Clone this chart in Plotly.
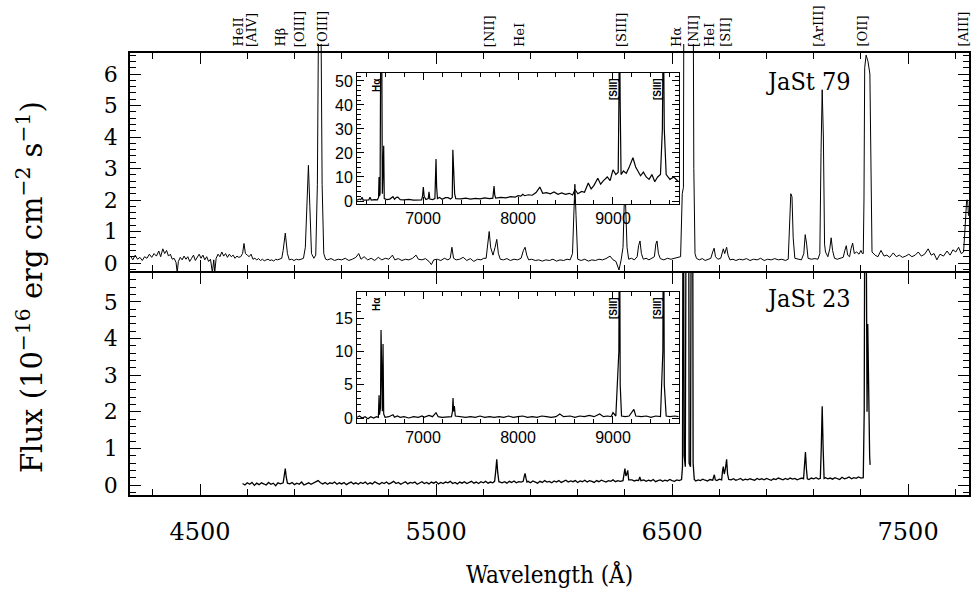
import numpy as np
import plotly.graph_objects as go

# ---------------- JaSt 79, optical spectrum (upper panel) ----------------
w79 = [4205, 4215, 4225, 4235, 4245, 4255, 4265, 4275, 4285, 4295,
       4305, 4315, 4325, 4333, 4342, 4350, 4358, 4366, 4374, 4382,
       4390, 4398, 4403, 4408, 4416, 4424, 4432, 4440, 4448, 4456,
       4464, 4472, 4480, 4488, 4496, 4504, 4512, 4520, 4528, 4536,
       4544, 4552, 4558, 4562, 4568, 4576, 4584, 4592, 4600, 4608,
       4616, 4624, 4632, 4640, 4648, 4656, 4664, 4672, 4680, 4686,
       4692, 4700, 4708, 4716, 4724, 4732, 4740, 4748, 4756, 4764,
       4772, 4780, 4788, 4796, 4804, 4812, 4820, 4828, 4836, 4846,
       4852, 4861, 4870, 4878, 4888, 4898, 4908, 4918, 4928, 4938,
       4946, 4953, 4959, 4965, 4972, 4982, 4990, 4997, 5002, 5007,
       5012, 5017, 5024, 5032, 5040, 5055, 5070, 5085, 5100, 5115,
       5130, 5145, 5160, 5172, 5182, 5195, 5210, 5225, 5240, 5255,
       5270, 5285, 5300, 5315, 5325, 5340, 5355, 5370, 5385, 5400,
       5415, 5425, 5440, 5455, 5470, 5480, 5490, 5505, 5520, 5535,
       5550, 5560, 5567, 5574, 5585, 5600, 5615, 5630, 5645, 5660,
       5675, 5690, 5702, 5712, 5719, 5725, 5731, 5741, 5750, 5757,
       5764, 5772, 5785, 5800, 5815, 5830, 5845, 5860, 5870, 5877,
       5884, 5892, 5905, 5920, 5935, 5950, 5965, 5980, 5995, 6010,
       6025, 6040, 6055, 6068, 6078, 6084, 6088, 6093, 6100, 6115,
       6130, 6145, 6160, 6175, 6190, 6205, 6220, 6237, 6250, 6262,
       6275, 6284, 6292, 6297, 6303, 6309, 6316, 6328, 6340, 6352,
       6358, 6364, 6370, 6378, 6390, 6402, 6414, 6425, 6431, 6436,
       6442, 6450, 6465, 6480, 6495, 6510, 6525, 6536, 6540, 6543,
       6548, 6552, 6560, 6566, 6574, 6580, 6586, 6592, 6597, 6603,
       6615, 6628, 6640, 6652, 6664, 6672, 6678, 6684, 6694, 6706,
       6712, 6717, 6723, 6731, 6737, 6745, 6758, 6770, 6785, 6800,
       6815, 6830, 6845, 6860, 6875, 6890, 6905, 6920, 6935, 6950,
       6965, 6980, 6992, 6998, 7003, 7008, 7013, 7020, 7035, 7048,
       7058, 7064, 7070, 7076, 7090, 7105, 7118, 7126, 7131, 7136,
       7141, 7146, 7150, 7160, 7168, 7174, 7180, 7188, 7200, 7212,
       7225, 7232, 7238, 7244, 7252, 7258, 7265, 7272, 7282, 7292,
       7300, 7306, 7310, 7313, 7316, 7322, 7330, 7338, 7343, 7347,
       7360, 7372, 7385, 7398, 7410, 7422, 7437, 7450, 7463, 7476,
       7490, 7503, 7516, 7530, 7543, 7556, 7570, 7585, 7598, 7610,
       7622, 7635, 7650, 7665, 7678, 7690, 7702, 7714, 7725, 7735,
       7742, 7748, 7752, 7756]
f79 = [0.22, 0.10, 0.25, 0.12, 0.18, 0.08, 0.20, 0.15, 0.28, 0.18,
       0.30, 0.22, 0.38, 0.20, 0.45, 0.30, 0.40, 0.22, 0.28, 0.12,
       0.15, 0.02, -0.30, 0.05, 0.18, 0.10, 0.22, 0.12, 0.20, 0.05,
       0.15, 0.25, 0.08, 0.18, 0.28, 0.15, 0.25, 0.10, 0.20, 0.05,
       0.12, -0.30, 0.10, -0.30, 0.15, 0.28, 0.20, 0.35, 0.22, 0.30,
       0.18, 0.28, 0.20, 0.25, 0.15, 0.22, 0.18, 0.20, 0.30, 0.62,
       0.30, 0.25, 0.20, 0.28, 0.12, 0.15, 0.10, 0.14, 0.08, 0.12,
       0.07, 0.10, 0.12, 0.08, 0.10, 0.06, 0.12, 0.10, 0.12, 0.15,
       0.40, 0.95, 0.30, 0.10, 0.12, 0.08, 0.12, 0.10, 0.12, 0.15,
       0.50, 2.20, 3.10, 1.80, 0.30, 0.15, 0.25, 2.50, 8.00, 10.0,
       8.00, 2.50, 0.30, 0.12, 0.10, 0.14, 0.08, 0.12, 0.10, 0.15,
       0.08, 0.12, 0.18, 0.30, 0.12, 0.20, 0.10, 0.15, 0.08, 0.18,
       0.10, 0.15, 0.12, 0.25, 0.10, 0.14, 0.08, 0.12, 0.10, 0.15,
       0.25, 0.12, 0.10, 0.14, 0.05, -0.05, 0.10, 0.12, 0.08, 0.15,
       0.10, 0.15, 0.50, 0.15, 0.10, 0.12, 0.18, 0.08, 0.14, 0.05,
       0.12, 0.10, 0.15, 0.15, 0.60, 1.00, 0.50, 0.25, 0.50, 0.75,
       0.30, 0.12, 0.10, 0.14, 0.08, 0.12, 0.10, 0.15, 0.40, 0.50,
       0.25, 0.10, 0.12, 0.08, 0.10, 0.06, 0.10, 0.08, 0.12, 0.06,
       0.10, 0.08, 0.12, 0.10, 0.30, 1.80, 2.50, 1.50, 0.12, 0.08,
       0.12, 0.06, 0.10, 0.08, 0.12, 0.10, 0.14, 0.22, 0.10, 0.05,
       -0.22, 0.10, 0.50, 1.85, 1.85, 0.50, 0.12, 0.15, 0.10, 0.20,
       0.55, 0.70, 0.30, 0.12, 0.15, 0.10, 0.14, 0.20, 0.60, 0.70,
       0.30, 0.14, 0.10, 0.15, 0.12, 0.14, 0.18, 0.20, 1.50, 2.20,
       2.40, 20.0, 45.0, 40.0, 15.0, 20.0, 16.0, 3.00, 0.30, 0.15,
       0.10, 0.14, 0.08, 0.12, 0.15, 0.35, 0.47, 0.20, 0.12, 0.15,
       0.35, 0.45, 0.30, 0.50, 0.25, 0.10, 0.12, 0.08, 0.12, 0.10,
       0.14, 0.08, 0.12, 0.10, 0.15, 0.08, 0.12, 0.10, 0.14, 0.10,
       0.12, 0.08, 0.12, 1.20, 2.20, 2.10, 0.80, 0.15, 0.12, 0.10,
       0.30, 0.90, 0.60, 0.15, 0.12, 0.14, 0.12, 0.30, 3.50, 5.50,
       4.00, 0.60, 0.35, 0.20, 0.45, 0.80, 0.40, 0.15, 0.12, 0.14,
       0.18, 0.40, 0.55, 0.25, 0.20, 0.45, 0.63, 0.30, 0.35, 0.28,
       0.40, 0.30, 0.30, 2.00, 6.20, 6.60, 6.40, 6.00, 2.00, 0.35,
       0.25, 0.20, 0.40, 0.22, 0.25, 0.18, 0.32, 0.20, 0.25, 0.18,
       0.22, 0.28, 0.20, 0.25, 0.35, 0.22, 0.28, 0.45, 0.25, 0.30,
       0.10, 0.28, 0.22, 0.38, 0.25, 0.42, 0.35, 0.50, 0.30, 0.35,
       1.20, 2.00, 2.00, 1.50]

# ---------------- JaSt 23, optical spectrum (lower panel) ----------------
# continuum sampled every 10 A from 4680 A to 7340 A
w23_start, w23_step = 4680, 10
f23_cont = [
    0.04, 0.00, 0.06, 0.02, 0.07, -0.01, 0.05, 0.01, 0.06, 0.03,
    0.00, 0.07, 0.02, 0.05, -0.02, 0.06, 0.03, 0.04, 0.00, 0.06,
    0.03, 0.07, 0.01, 0.05, 0.02, 0.08, 0.00, 0.04, 0.06, 0.02,
    0.05, 0.09, 0.12, 0.06, 0.03, 0.07, 0.02, 0.06, 0.04, 0.08,
    0.02, 0.06, 0.03, 0.07, 0.01, 0.05, 0.08, 0.03, 0.06, 0.02,
    0.07, 0.04, 0.08, 0.02, 0.06, 0.03, 0.09, 0.05, 0.02, 0.07,
    0.04, 0.08, 0.03, 0.06, 0.10, 0.04, 0.07, 0.02, 0.06, 0.09,
    0.03, 0.07, 0.05, 0.08, 0.02, 0.06, 0.09, 0.04, 0.07, 0.03,
    0.08, 0.05, 0.09, 0.03, 0.07, 0.04, 0.08, 0.06, 0.10, 0.04,
    0.07, 0.03, 0.08, 0.05, 0.09, 0.04, 0.07, 0.10, 0.05, 0.08,
    0.04, 0.09, 0.06, 0.10, 0.05, 0.08, 0.06, 0.09, 0.07, 0.10,
    0.06, 0.09, 0.05, 0.10, 0.07, 0.11, 0.06, 0.09, 0.08, 0.10,
    0.07, 0.10, 0.06, 0.11, 0.08, 0.05, 0.10, 0.07, 0.12, 0.08,
    0.10, 0.06, 0.11, 0.08, 0.12, 0.07, 0.10, 0.13, 0.08, 0.11,
    0.09, 0.12, 0.07, 0.11, 0.09, 0.13, 0.08, 0.12, 0.10, 0.07,
    0.12, 0.09, 0.13, 0.10, 0.08, 0.12, 0.10, 0.14, 0.09, 0.12,
    0.10, 0.13, 0.16, 0.12, 0.10, 0.14, 0.11, 0.13, 0.09, 0.12,
    0.14, 0.10, 0.13, 0.11, 0.15, 0.09, 0.12, 0.14, 0.10, 0.13,
    0.11, 0.15, 0.12, 0.10, 0.14, 0.12, 0.13, 0.15, 0.12, 0.14,
    0.13, 0.15, 0.11, 0.14, 0.12, 0.16, 0.13, 0.11, 0.15, 0.13,
    0.14, 0.12, 0.16, 0.13, 0.15, 0.12, 0.16, 0.14, 0.17, 0.13,
    0.15, 0.18, 0.13, 0.16, 0.14, 0.17, 0.15, 0.13, 0.18, 0.15,
    0.17, 0.14, 0.18, 0.16, 0.13, 0.17, 0.15, 0.19, 0.16, 0.14,
    0.18, 0.15, 0.19, 0.16, 0.18, 0.14, 0.17, 0.19, 0.16, 0.18,
    0.15, 0.19, 0.17, 0.20, 0.16, 0.18, 0.15, 0.20, 0.17, 0.19,
    0.16, 0.20, 0.18, 0.15, 0.21, 0.17, 0.19, 0.22, 0.17, 0.20,
    0.18, 0.22, 0.19, 0.21, 0.17, 0.20, 0.22]

# emission lines of JaSt 23: (wavelength list, flux list)
lines23 = {
    "Hb":     ([4852, 4857, 4861, 4865, 4870], [0.06, 0.25, 0.45, 0.22, 0.05]),
    "NII5755": ([5748, 5753, 5757, 5761, 5766], [0.10, 0.40, 0.70, 0.35, 0.09]),
    "HeI5876": ([5869, 5873, 5877, 5881, 5885], [0.10, 0.22, 0.32, 0.18, 0.08]),
    "OI6300": ([6292, 6297, 6300, 6304, 6308, 6312, 6316],
               [0.12, 0.30, 0.45, 0.25, 0.30, 0.40, 0.14]),
    "OI6364": ([6358, 6363, 6368], [0.12, 0.22, 0.12]),
    "Ha":     ([6540, 6544, 6547, 6551, 6556, 6560, 6564, 6568, 6572, 6578,
                6582, 6585, 6589, 6594],
               [0.15, 0.50, 12.0, 0.80, 0.50, 10.0, 40.0, 10.0, 0.60, 0.50,
                12.0, 18.0, 0.60, 0.15]),
    "HeI6678": ([6672, 6676, 6679, 6683], [0.13, 0.22, 0.28, 0.14]),
    "SII":    ([6710, 6714, 6717, 6721, 6726, 6731, 6735, 6740],
               [0.14, 0.40, 0.50, 0.30, 0.45, 0.70, 0.30, 0.15]),
    "HeI7065": ([7057, 7061, 7065, 7069, 7073], [0.17, 0.45, 0.90, 0.45, 0.17]),
    "ArIII":  ([7128, 7132, 7136, 7140, 7144], [0.18, 1.00, 2.15, 1.00, 0.18]),
    "OII":    ([7310, 7314, 7318, 7322, 7326, 7329, 7333, 7337, 7339],
               [0.20, 2.00, 12.0, 8.00, 2.00, 4.40, 2.00, 0.80, 0.55]),
}

# ---------------- long-range spectra (insets) ----------------
w79_red = [6305, 6330, 6345, 6358, 6370, 6400, 6430, 6442, 6455, 6490,
           6520, 6532, 6537, 6542, 6548, 6556, 6564, 6572, 6579, 6586,
           6592, 6620, 6650, 6684, 6700, 6720, 6735, 6760, 6800, 6850,
           6900, 6950, 6985, 6995, 7003, 7012, 7030, 7055, 7063, 7072,
           7100, 7125, 7133, 7137, 7143, 7152, 7175, 7200, 7237, 7263,
           7290, 7308, 7314, 7320, 7326, 7333, 7345, 7400, 7450, 7500,
           7550, 7600, 7650, 7700, 7735, 7742, 7748, 7755, 7765, 7820,
           7870, 7920, 7970, 8000, 8030, 8050, 8070, 8110, 8150, 8190,
           8230, 8260, 8300, 8340, 8380, 8420, 8460, 8500, 8540, 8575,
           8600, 8630, 8670, 8700, 8740, 8770, 8800, 8840, 8870, 8900,
           8940, 8970, 9000, 9030, 9055, 9062, 9068, 9076, 9085, 9110,
           9140, 9170, 9210, 9240, 9270, 9290, 9320, 9350, 9380, 9410,
           9440, 9470, 9500, 9520, 9530, 9540, 9560, 9600, 9640, 9690]
f79_red = [0.3, 0.8, 0.5, 1.6, 0.4, 0.6, 0.5, 1.6, 0.4, 0.6,
           0.5, 1.5, 10.0, 2.0, 3.0, 80.0, 80.0, 3.0, 23.0, 23.0,
           1.0, 0.6, 0.8, 1.8, 0.7, 1.5, 1.6, 0.6, 0.5, 0.7,
           0.4, 0.6, 0.5, 2.0, 5.8, 2.0, 0.6, 1.0, 3.8, 0.8,
           0.6, 1.0, 12.0, 17.5, 6.0, 1.0, 1.5, 0.7, 1.4, 1.4,
           0.8, 1.5, 21.3, 15.0, 12.0, 3.0, 1.0, 0.9, 1.2, 0.8,
           1.1, 0.9, 1.3, 1.0, 1.2, 3.0, 6.2, 2.5, 1.2, 1.5,
           1.3, 1.8, 1.6, 2.2, 2.0, 2.8, 2.2, 2.6, 2.4, 3.5,
           5.8, 3.2, 3.5, 3.0, 3.8, 2.8, 3.4, 2.8, 3.2, 2.5,
           4.8, 3.0, 4.0, 3.6, 7.5, 5.0, 6.5, 9.5, 7.0, 8.5,
           10.0, 8.5, 13.0, 11.0, 12.0, 40.0, 80.0, 40.0, 11.0, 12.5,
           11.5, 14.0, 18.0, 14.0, 12.0, 10.5, 12.0, 10.0, 9.0, 11.0,
           8.0, 10.0, 11.0, 30.0, 80.0, 30.0, 11.0, 9.0, 10.0, 8.0]

w23_red = [6305, 6330, 6360, 6390, 6420, 6450, 6480, 6510, 6530, 6537,
           6542, 6552, 6558, 6566, 6572, 6579, 6586, 6600, 6640, 6684,
           6700, 6730, 6760, 6800, 6850, 6900, 6950, 6990, 7010, 7063,
           7100, 7137, 7160, 7200, 7250, 7300, 7310, 7316, 7322, 7330,
           7340, 7400, 7450, 7500, 7550, 7600, 7650, 7700, 7750, 7800,
           7850, 7900, 7950, 8000, 8050, 8100, 8150, 8200, 8250, 8300,
           8350, 8400, 8440, 8480, 8550, 8600, 8650, 8700, 8750, 8800,
           8860, 8900, 8940, 8980, 9000, 9030, 9062, 9068, 9076, 9090,
           9130, 9170, 9220, 9240, 9300, 9350, 9400, 9450, 9500, 9525,
           9532, 9540, 9560, 9600, 9650, 9690]
f23_red = [0.1, 0.3, 0.0, 0.2, -0.1, 0.2, 0.0, 0.2, 0.1, 3.4,
           0.5, 1.5, 13.2, 1.0, 1.0, 11.1, 0.6, 0.1, 0.2, 0.5,
           0.1, 0.3, 0.1, 0.2, 0.0, 0.2, 0.1, 0.3, 0.1, 0.4,
           0.2, 0.8, 0.2, 0.1, 0.2, 0.2, 1.0, 3.0, 1.0, 1.8,
           0.3, 0.2, 0.1, 0.2, 0.1, 0.3, 0.1, 0.2, 0.1, 0.2,
           0.1, 0.3, 0.1, 0.2, 0.3, 0.1, 0.2, 0.1, 0.3, 0.2,
           0.1, 0.2, 0.6, 0.2, 0.3, 0.1, 0.3, 0.2, 0.4, 0.2,
           0.6, 0.2, 0.3, 0.2, 0.8, 0.3, 10.0, 40.0, 5.0, 0.3,
           0.2, 0.3, 1.3, 0.3, 0.2, 0.3, 0.1, 0.3, 0.2, 10.0,
           40.0, 5.0, 0.3, 0.2, 0.3, 0.2]

# line identifications above the upper panel (label anchor in A)
id_text = ["HeII", "[AIV]", "Hβ", "[OIII]", "[OIII]", "[NII]", "HeI", "[SIII]",
           "Hα", "[NII]", "HeI", "[SII]", "[ArIII]", "[OII]", "[AIII]"]
id_wave = [4661, 4720, 4839, 4924, 5021, 5729, 5856, 6288,
           6521, 6593, 6661, 6725, 7119, 7305, 7733]

# ---------------- assemble JaSt 23 spectrum ----------------
w23_cont = w23_start + w23_step * np.arange(len(f23_cont))
f23_cont = np.array(f23_cont)
keep = np.ones(len(w23_cont), bool)
lw, lf = [], []
for wl, fl in lines23.values():
    keep &= ~((w23_cont >= min(wl) - 4) & (w23_cont <= max(wl) + 4))
    lw += wl
    lf += fl
w23 = np.concatenate([w23_cont[keep], lw])
f23 = np.concatenate([f23_cont[keep], lf])
order = np.argsort(w23)
w23, f23 = w23[order], f23[order]

# ---------------- layout geometry ----------------
W, H = 971, 593
ML, MR, MT, MB = 130, 2, 0, 98
PW, PH = W - ML - MR, H - MT - MB


def fy(row):
    """paper fraction for a pixel row measured from the top"""
    return (H - MB - row) / PH


def fx(col):
    return (col - ML) / PW


SERIF = "DejaVu Serif"
COND = "DejaVu Serif Condensed, DejaVu Serif"
SANS = "Liberation Sans, Arial"

# upper panel: 31.5 px per flux unit; it starts 2 px above the lower panel so that
# its bottom axis line falls on the mirrored top line of the lower panel
TOP_PX_PER_UNIT = 31.5
TOP_Y0 = -0.317 + 2 / TOP_PX_PER_UNIT
TOP_Y1 = 6.667
# the strongest lines of the upper spectrum run a little past the frame
SPILL_ROW = 44
SPILL_Y1 = TOP_Y1 + (53 - SPILL_ROW) / TOP_PX_PER_UNIT

fig = go.Figure()
fig.add_trace(go.Scatter(x=w23, y=f23, mode="lines", line=dict(color="black", width=1.3),
                         xaxis="x", yaxis="y", showlegend=False, hoverinfo="skip"))
# empty trace so that the upper frame (x2/y2) is built
fig.add_trace(go.Scatter(x=[], y=[], mode="lines", xaxis="x2", yaxis="y2",
                         showlegend=False, hoverinfo="skip"))
fig.add_trace(go.Scatter(x=w79, y=f79, mode="lines", line=dict(color="black", width=1),
                         xaxis="x2", yaxis="y5", showlegend=False, hoverinfo="skip"))
fig.add_trace(go.Scatter(x=w79_red, y=f79_red, mode="lines", line=dict(color="black", width=1.2),
                         xaxis="x3", yaxis="y3", showlegend=False, hoverinfo="skip"))
fig.add_trace(go.Scatter(x=w23_red, y=f23_red, mode="lines", line=dict(color="black", width=1.2),
                         xaxis="x4", yaxis="y4", showlegend=False, hoverinfo="skip"))

main_common = dict(showgrid=False, zeroline=False, showline=True, linecolor="black",
                   linewidth=1.5, mirror="ticks", ticks="inside", tickcolor="black",
                   tickwidth=1.2)
xr = [4203, 7758]
xmain = dict(main_common, range=xr, tick0=4500, dtick=1000, ticklen=11,
             minor=dict(ticks="inside", tick0=4500, dtick=200, ticklen=6,
                        tickcolor="black", tickwidth=1.2))
ymain = dict(main_common, dtick=1, ticklen=11,
             minor=dict(ticks="inside", dtick=0.2, ticklen=6, tickcolor="black", tickwidth=1.2),
             tickfont=dict(family=SERIF, size=22, color="black"), ticklabelstandoff=6)

inset_common = dict(showgrid=False, zeroline=False, showline=True, linecolor="black",
                    linewidth=1, mirror="ticks", ticks="inside", tickcolor="black",
                    tickwidth=1, tickfont=dict(family=SANS, size=16, color="black"))
xin = dict(inset_common, range=[6305, 9695], tick0=7000, dtick=1000, ticklen=7,
           minor=dict(ticks="inside", tick0=7000, dtick=200, ticklen=4, tickcolor="black"),
           domain=[fx(357), fx(679)])

fig.update_layout(
    width=W, height=H, margin=dict(l=ML, r=MR, t=MT, b=MB),
    paper_bgcolor="white", plot_bgcolor="rgba(0,0,0,0)",
    xaxis=dict(xmain, domain=[0, 1], anchor="y",
               tickfont=dict(family=SERIF, size=24, color="black"), ticklabelstandoff=14,
               title=dict(text="Wavelength (Å)", font=dict(family=COND, size=24, color="black"),
                          standoff=22)),
    yaxis=dict(ymain, domain=[0, fy(273)], range=[-0.273, 5.79], anchor="x"),
    xaxis2=dict(xmain, domain=[0, 1], anchor="y2", showticklabels=False, matches="x"),
    yaxis2=dict(ymain, domain=[fy(271), fy(53)], range=[TOP_Y0, TOP_Y1], anchor="x2"),
    yaxis5=dict(domain=[fy(271), fy(SPILL_ROW)], range=[TOP_Y0, SPILL_Y1], anchor="x2",
                visible=False, showgrid=False, zeroline=False),
    xaxis3=dict(xin, anchor="y3"),
    yaxis3=dict(inset_common, domain=[fy(204), fy(73)], range=[-1.25, 53.3], dtick=10,
                ticklen=7, anchor="x3",
                minor=dict(ticks="inside", dtick=2, ticklen=4, tickcolor="black")),
    xaxis4=dict(xin, anchor="y4"),
    yaxis4=dict(inset_common, domain=[fy(423), fy(292)], range=[-0.75, 18.9], dtick=5,
                ticklen=7, anchor="x4",
                minor=dict(ticks="inside", dtick=1, ticklen=4, tickcolor="black")),
)

ann = []
for t, wv in zip(id_text, id_wave):
    ann.append(dict(x=wv, y=fy(49), xref="x2", yref="paper", text=t, textangle=-90,
                    showarrow=False, xanchor="center", yanchor="bottom",
                    font=dict(family=SERIF, size=13, color="black")))

ann.append(dict(x=fx(30), y=fy(287), xref="paper", yref="paper", textangle=-90,
                xanchor="center", yanchor="middle",
                text="Flux (10<sup>−16</sup> erg cm<sup>−2</sup> s<sup>−1</sup>)",
                showarrow=False, font=dict(family=SERIF, size=29, color="black")))
ann.append(dict(x=fx(808), y=fy(82), xref="paper", yref="paper", text="JaSt 79",
                xanchor="center", yanchor="middle",
                showarrow=False, font=dict(family=COND, size=25, color="black")))
ann.append(dict(x=fx(808), y=fy(298), xref="paper", yref="paper", text="JaSt 23",
                xanchor="center", yanchor="middle",
                showarrow=False, font=dict(family=COND, size=25, color="black")))

# identifications inside the insets
for xa, top in (("x3", 76), ("x4", 295)):
    for t, wv in (("Hα", 6505), ("[SIII]", 9000), ("[SIII]", 9463)):
        ann.append(dict(x=wv, y=fy(top), xref=xa, yref="paper", text="<b>%s</b>" % t,
                        textangle=-90, showarrow=False, xanchor="center", yanchor="top",
                        font=dict(family=SANS, size=10, color="black")))

fig.update_layout(annotations=ann)
fig.write_html("out.html")
